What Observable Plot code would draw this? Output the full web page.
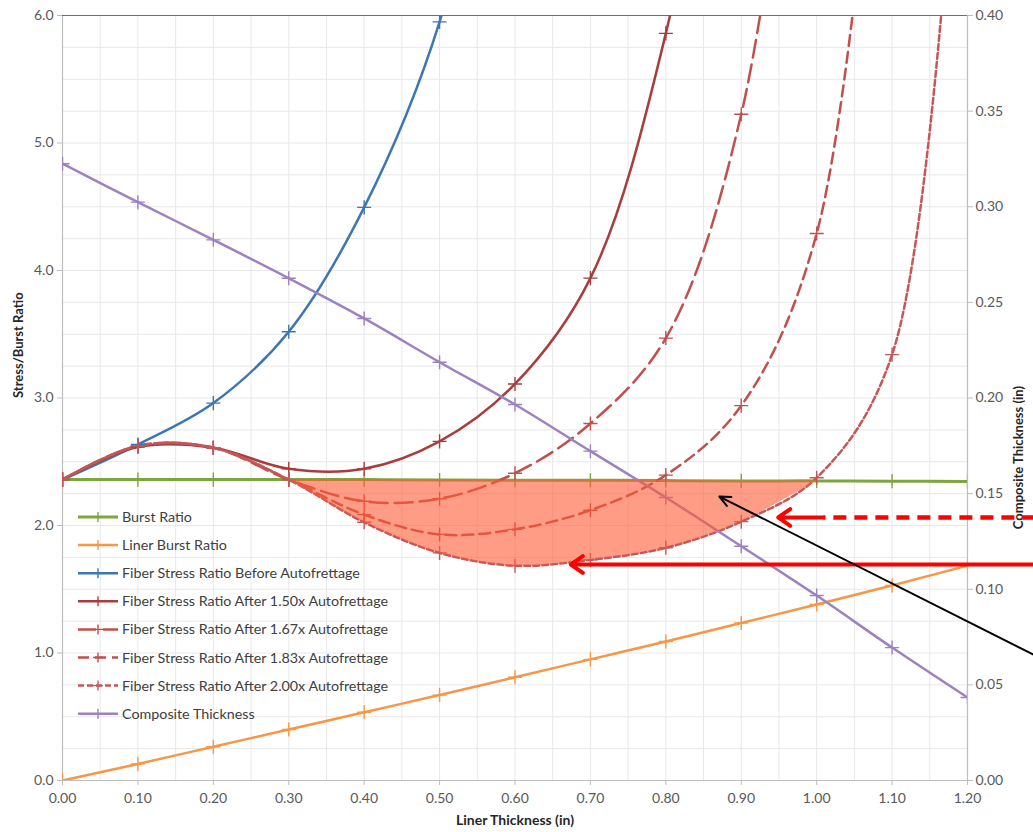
<!DOCTYPE html>
<html><head><meta charset="utf-8">
<script src="https://cdn.jsdelivr.net/npm/d3@7"></script>
<script src="https://cdn.jsdelivr.net/npm/@observablehq/plot@0.6"></script>
<style>
body{margin:0;background:#fff;}
#wrap{position:relative;width:1033px;height:832px;overflow:hidden;}
#wrap svg{position:absolute;left:0;top:0;}
</style></head><body><div id="wrap"></div>
<script>
// ---- data ----
const linerThickness = [0,0.1,0.2,0.3,0.4,0.5,0.6,0.7,0.8,0.9,1.0,1.1,1.2];
const burstRatio   = [2.36,2.36,2.36,2.36,2.36,2.357,2.355,2.355,2.352,2.35,2.35,2.348,2.345];
const linerBurst   = [0,0.13,0.265,0.40,0.535,0.67,0.81,0.95,1.09,1.235,1.38,1.53,1.685];
const fiberBefore  = [2.36,2.635,2.96,3.52,4.495,5.95,8.6];
const fiber150     = [2.36,2.615,2.61,2.445,2.445,2.66,3.11,3.94,5.86,9.2];
const fiber167     = [2.36,2.625,2.61,2.36,2.19,2.21,2.41,2.80,3.47,5.225,9.4];
const fiber183     = [2.36,2.625,2.61,2.36,2.085,1.93,1.97,2.12,2.395,2.94,4.29,9.2];
const fiber200     = [2.36,2.625,2.61,2.36,2.025,1.785,1.685,1.73,1.825,2.03,2.375,3.34,9.0];
const compositeThk = [0.3225,0.3024,0.2827,0.2626,0.2416,0.2187,0.1966,0.1722,0.148,0.1225,0.0967,0.0695,0.0434];
const xTicks = [0,0.1,0.2,0.3,0.4,0.5,0.6,0.7,0.8,0.9,1.0,1.1,1.2];
const yTicks = [0,1,2,3,4,5,6];
const y2Ticks = [0,0.05,0.10,0.15,0.20,0.25,0.30,0.35,0.40];
const seriesNames = ["Burst Ratio","Liner Burst Ratio","Fiber Stress Ratio Before Autofrettage",
  "Fiber Stress Ratio After 1.50x Autofrettage","Fiber Stress Ratio After 1.67x Autofrettage",
  "Fiber Stress Ratio After 1.83x Autofrettage","Fiber Stress Ratio After 2.00x Autofrettage","Composite Thickness"];
const arrows = [
  {x1:1.29, y1:2.063, x2:0.949, y2:2.063, color:"#ff0000", dash:true},
  {x1:1.29, y1:1.694, x2:0.674, y2:1.694, color:"#ff0000", dash:false},
  {x1:1.29, y1:0.98, x2:0.871, y2:2.227, color:"#000000", dash:false}
];

const Y2 = 15; // right axis 0.40 -> 6.0
const styles = [
  {stroke:"#7ea63f", w:3, dash:null},
  {stroke:"#f79646", w:2.5, dash:null},
  {stroke:"#3d76b4", w:2.5, dash:null},
  {stroke:"#a53e3c", w:2.5, dash:null},
  {stroke:"#c0504d", w:2.5, dash:"18,7"},
  {stroke:"#c0504d", w:2.5, dash:"11,6"},
  {stroke:"#c4575a", w:2.5, dash:"6,3"},
  {stroke:"#9c82be", w:2.5, dash:null}
];
const seriesVals = [burstRatio, linerBurst, fiberBefore, fiber150, fiber167, fiber183, fiber200,
  compositeThk.map(v => v * Y2)];

const seriesData = seriesVals.map((vals, s) => vals.map((v, i) => ({x: linerThickness[i], y: v, s})));

const curve = "catmull-rom";
const tension = 0.5;
const lineMarks = [];
seriesData.forEach((data, s) => {
  const st = styles[s];
  lineMarks.push(Plot.line(data, {x:"x", y:"y", stroke: st.stroke, strokeWidth: st.w,
    strokeDasharray: st.dash || undefined, curve, tension, clip: true}));
});
seriesData.forEach((data, s) => {
  const st = styles[s];
  lineMarks.push(Plot.dot(data.filter(d => d.y <= 6.0001), {x:"x", y:"y", symbol:"plus", r:4.6,
    stroke: st.stroke, strokeWidth: 1.4, clip: true}));
});

// fill between burst ratio and 2.00x curve where below
const fillData = linerThickness.map((x, i) => ({x, lo: Math.min(fiber200[i], burstRatio[i]), hi: burstRatio[i]}))
  .filter(d => d.x >= 0.29 && d.x <= 1.01);

const arrowMarks = [];
arrows.forEach(a => {
  if (a.dash) {
    const split = a.x2 + 0.06;
    arrowMarks.push(Plot.link([a], {x1: "x1", y1: "y1", x2: () => split, y2: "y2", stroke: a.color, strokeWidth: 4.5, strokeDasharray: "13,8"}));
    arrowMarks.push(Plot.arrow([a], {x1: () => split, y1: "y1", x2: "x2", y2: "y2", stroke: a.color, strokeWidth: 4, headLength: 5.5, headAngle: 70}));
  } else {
    const sw = a.color === "#000000" ? 2 : 4;
    arrowMarks.push(Plot.arrow([a], {x1:"x1", y1:"y1", x2:"x2", y2:"y2", stroke: a.color, strokeWidth: sw,
      headLength: sw === 2 ? 9 : 5.5, headAngle: sw === 2 ? 50 : 70}));
  }
});

const chart = Plot.plot({
  width: 1033, height: 832,
  marginTop: 15, marginBottom: 52, marginLeft: 62, marginRight: 66,
  x: {domain: [0, 1.2]},
  y: {domain: [0, 6]},
  style: {fontFamily: "Lato, 'Open Sans', sans-serif", fontSize: "14px", color: "#595959", background: "#fff", overflow: "visible"},
  marks: [
    Plot.gridX(d3.range(0, 1.2001, 0.05), {stroke: "#e8e8e8", strokeOpacity: 1}),
    Plot.gridY(d3.range(0, 6.001, 0.25), {stroke: "#e8e8e8", strokeOpacity: 1}),
    Plot.ruleX([0, 1.2], {stroke: "#bdbdbd", strokeWidth: 1.2}),
    Plot.ruleY([0], {stroke: "#bdbdbd", strokeWidth: 1.2}),
    Plot.ruleY([6], {stroke: "#6e6e6e", strokeWidth: 1.2}),
    Plot.axisX({ticks: xTicks, tickFormat: d => d.toFixed(2), tickSize: 5, tickPadding: 8, label: null, stroke: "#bdbdbd", fill: "#595959"}),
    Plot.axisY({ticks: yTicks, anchor: "left", tickFormat: d => d.toFixed(1), tickSize: 5, tickPadding: 4, label: null, stroke: "#bdbdbd", fill: "#595959"}),
    Plot.axisY({ticks: y2Ticks.map(v => v * Y2), anchor: "right", tickFormat: d => (d / Y2).toFixed(2), tickSize: 5, tickPadding: 3, label: null, stroke: "#bdbdbd", fill: "#595959"}),
    Plot.text(["Liner Thickness (in)"], {frameAnchor: "bottom", dy: 44, fontWeight: "bold", fontSize: 14, fill: "#262626"}),
    Plot.text(["Stress/Burst Ratio"], {frameAnchor: "left", dx: -44, rotate: -90, fontWeight: "bold", fontSize: 13, fill: "#262626"}),
    Plot.text(["Composite Thickness (in)"], {frameAnchor: "right", dx: 51, dy: -12, rotate: -90, fontWeight: "bold", fontSize: 13, fill: "#262626"}),
    ...lineMarks,
    Plot.areaY(fillData, {x: "x", y1: "lo", y2: "hi", curve, tension, fill: "#ff5a36", fillOpacity: 0.6}),
    ...arrowMarks
  ]
});
const wrap = document.getElementById("wrap");
wrap.appendChild(chart);

// legend overlay
const lg = d3.select(wrap).append("svg").attr("width", 420).attr("height", 240)
  .style("left", "0px").style("top", "500px");
seriesNames.forEach((name, i) => {
  const st = styles[i];
  const yy = 17 + i * 28.1;
  const g = lg.append("g");
  g.append("line").attr("x1", 78).attr("x2", 118).attr("y1", yy).attr("y2", yy)
    .attr("stroke", st.stroke).attr("stroke-width", st.w).attr("stroke-dasharray", st.dash);
  g.append("path").attr("d", `M93,${yy}h10M98,${yy-5}v10`).attr("stroke", st.stroke).attr("stroke-width", 1.4);
  g.append("text").attr("x", 122).attr("y", yy).attr("dy", "0.35em").attr("fill", "#404040")
    .style("font-family", "Lato, 'Open Sans', sans-serif").style("font-size", "14.3px").text(name);
});
</script></body></html>
